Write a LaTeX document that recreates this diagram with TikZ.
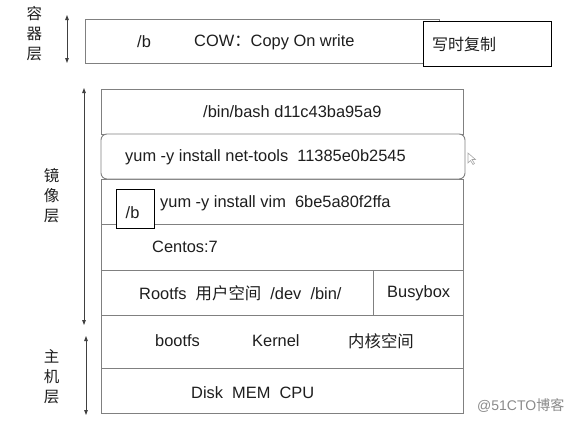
\documentclass[tikz,border=0pt]{standalone}
\usepackage{fontspec}
\setmainfont{Liberation Sans}
\newfontfamily\cjk{Noto Sans CJK SC}
\usetikzlibrary{arrows.meta}
\definecolor{linegray}{HTML}{808080}
\definecolor{txt}{HTML}{1E1E1E}
\definecolor{wm}{HTML}{8A8A8A}
\tikzset{
  rowbox/.style={draw=linegray, line width=0.9pt, fill=white, inner sep=0pt},
  blackbox/.style={draw=black, line width=1pt, fill=white, inner sep=0pt},
  lbl/.style={anchor=west, inner sep=0pt, text=txt, font=\fontsize{16.4}{19}\selectfont},
  side/.style={inner sep=0pt, text=txt, font=\cjk\fontsize{15.5}{20}\selectfont, align=center},
  dimarrow/.style={draw=txt!85, line width=0.8pt, {Triangle[length=5pt,width=3.6pt]}-{Triangle[length=5pt,width=3.6pt]}}
}
\begin{document}
\begin{tikzpicture}[x=1pt,y=-1pt]
\useasboundingbox (0,0) rectangle (584,423);
% container layer
\node[rowbox, minimum width=354pt, minimum height=44pt] (cont) at (262,41) {};
\node[lbl] (tb) at (137,42) {/b};
\node[lbl] (tcow) at (194,42) {COW{\cjk ：}Copy On write};
\node[blackbox, minimum width=128.5pt, minimum height=45pt] (cow) at (487.5,43.7) {};
\node[lbl, font=\cjk\fontsize{16}{19}\selectfont] (tcow2) at (432,44) {写时复制};
% image layers
\node[rowbox, minimum width=361.3pt, minimum height=45pt] (r1) at (282.3,111.5) {};
\node[rowbox, minimum width=361.3pt, minimum height=45pt] (r3) at (282.3,201.5) {};
\node[rowbox, minimum width=361.3pt, minimum height=46pt] (r4) at (282.3,247) {};
\node[rowbox, minimum width=271.3pt, minimum height=45pt] (r5) at (237.3,292.5) {};
\node[rowbox, minimum width=90pt, minimum height=45pt] (r5b) at (418,292.5) {};
\node[rowbox, minimum width=361.3pt, minimum height=53pt] (r6) at (282.3,341.5) {};
\node[rowbox, minimum width=361.3pt, minimum height=45pt] (r7) at (282.3,390.5) {};
\node[rowbox, rounded corners=6pt, minimum width=364pt, minimum height=45pt] (r2) at (283,156.5) {};
% texts
\node[lbl] (t1) at (203,112) {/bin/bash d11c43ba95a9};
\node[lbl] (t2) at (125,157) {yum -y install net-tools\ \ 11385e0b2545};
\node[lbl] (t3) at (160,203) {yum -y install vim\ \ 6be5a80f2ffa};
\node[blackbox, minimum width=38pt, minimum height=39pt] (bb) at (135,208.8) {};
\node[lbl] (tbb) at (125.5,213) {/b};
\node[lbl] (t4) at (152,247) {Centos:7};
\node[lbl] (t5) at (139,293) {Rootfs\ \ {\cjk 用户空间}\ \ /dev\ \ /bin/};
\node[lbl] (t5b) at (387,293) {Busybox};
\node[lbl] (t6a) at (155,341) {bootfs};
\node[lbl] (t6b) at (252,341) {Kernel};
\node[lbl, font=\cjk\fontsize{16.4}{19}\selectfont] (t6c) at (348,341) {内核空间};
\node[lbl] (t7) at (191,393) {Disk\ \ MEM\ \ CPU};
% side labels
\node[side] (s1) at (34.5,34) {容\\器\\层};
\node[side] (s2) at (51.5,195.5) {镜\\像\\层};
\node[side] (s3) at (51.5,376.5) {主\\机\\层};
% side arrows
\coordinate (a1t) at (67,15);
\coordinate (a1b) at (67,63);
\coordinate (a2t) at (84,88);
\coordinate (a2b) at (84,325);
\coordinate (a3t) at (86,336);
\coordinate (a3b) at (86,415);
\draw[dimarrow] (a1t) -- (a1b);
\draw[dimarrow] (a2t) -- (a2b);
\draw[dimarrow] (a3t) -- (a3b);
% cursor
\coordinate (cu) at (468,153);
\draw[linegray!70, line width=0.6pt] (cu) -- ++(0,10) -- ++(2.5,-2.5) -- ++(2.5,4) -- ++(1.5,-1) -- ++(-2.5,-4) -- ++(3.5,0) -- cycle;
% watermark
\node[anchor=west, inner sep=0pt, text=wm, font=\fontsize{14}{16}\selectfont] (wmk) at (477,406) {@51CTO{\cjk 博客}};
\end{tikzpicture}
\end{document}
